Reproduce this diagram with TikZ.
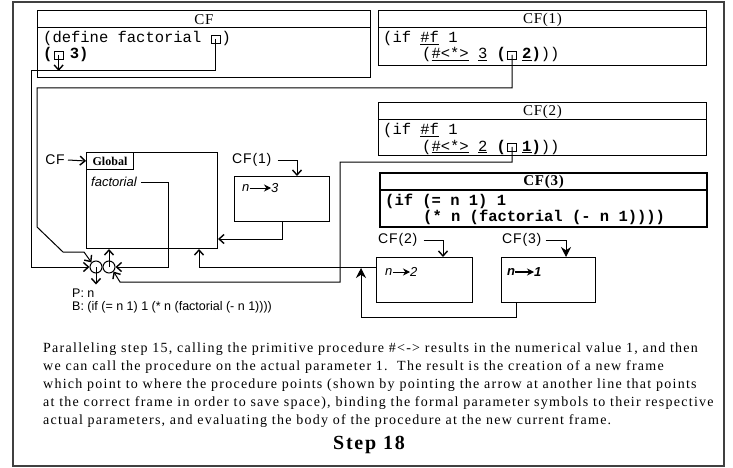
\documentclass[tikz,border=0pt]{standalone}
\usepackage{fontspec}
\setmainfont{Liberation Serif}
\setsansfont{Liberation Sans}
\setmonofont{Liberation Mono}
\newfontfamily\parafont[LetterSpace=9]{Liberation Serif}
\newfontfamily\lblfont[LetterSpace=6]{Liberation Sans}
\newfontfamily\hdrfont[LetterSpace=5]{Liberation Serif}
\usetikzlibrary{arrows.meta,positioning,calc}

\tikzset{
  line/.style={line width=1pt},
  arr/.style={line width=1pt, -{Straight Barb[length=5pt,width=9pt,line width=1.4pt]}},
  barr/.style={line width=1pt, -{Stealth[length=10pt,width=10pt]}},
  narr/.style={line width=1pt, -{Stealth[length=7pt,width=7pt]}},
  codebox/.style={draw, line width=1pt, inner sep=0pt, anchor=north west},
  code/.style={font=\fontsize{15.5}{16}\ttfamily, inner sep=0pt},
  boldcode/.style={font=\fontsize{15.5}{16}\ttfamily\bfseries, inner sep=0pt},
  hdr/.style={font=\fontsize{15}{16}\hdrfont, inner sep=0pt},
  ptr/.style={draw, line width=0.9pt, minimum width=9pt, minimum height=8pt, inner sep=0pt},
  frm/.style={draw, line width=1pt, inner sep=0pt, anchor=north west},
  lbl/.style={font=\fontsize{14}{16}\lblfont, inner sep=0pt},
  bind/.style={font=\fontsize{13}{15}\sffamily\itshape, inner sep=0pt},
  cell/.style={draw, circle, minimum size=12pt, inner sep=0pt, line width=1pt},
  proc/.style={font=\fontsize{12.5}{13}\sffamily, inner sep=0pt, anchor=west},
}

\begin{document}
\begin{tikzpicture}[x=1pt,y=-1pt]
\useasboundingbox (0,0) rectangle (733,468);
\draw[line width=1.5pt, black!75] (13,2) rectangle (724,466);

% code frames
\node[codebox, minimum width=333pt, minimum height=67pt] (cf) at (37,10) {};
\draw[line] ([yshift=-18pt]cf.north west) -- ([yshift=-18pt]cf.north east);
\node[hdr] (cft) at ([yshift=-9.5pt]cf.north) {CF};
\node[code, anchor=base west] (cfa) at (43,43) {(define factorial};
\node[ptr, right=9pt of cfa] (pf) {};
\node[code, right=1pt of pf] (cfb) {)};
\node[boldcode, anchor=base west] (cfc) at (43,59) {(};
\node[ptr, right=1pt of cfc] (pa) {};
\node[boldcode, right=6pt of pa] (cfd) {3)};

\node[codebox, minimum width=328pt, minimum height=55pt] (cf1) at (378,10) {};
\draw[line] ([yshift=-18pt]cf1.north west) -- ([yshift=-18pt]cf1.north east);
\node[hdr] (cf1t) at ([yshift=-9.5pt]cf1.north) {CF(1)};
\node[code, anchor=base west] (c1a) at (383,43) {(if \underline{\#f} 1};
\node[code, anchor=base west] (c1b) at (422,59) {(\underline{\#<*>} \underline{3} \textbf{(}};
\node[ptr, right=1pt of c1b] (p1) {};
\node[code, right=5pt of p1] (c1c) {\textbf{\underline{2})}))};

\node[codebox, minimum width=328pt, minimum height=53pt] (cf2) at (378,102) {};
\draw[line] ([yshift=-18pt]cf2.north west) -- ([yshift=-18pt]cf2.north east);
\node[hdr] (cf2t) at ([yshift=-9.5pt]cf2.north) {CF(2)};
\node[code, anchor=base west] (c2a) at (383,135) {(if \underline{\#f} 1};
\node[code, anchor=base west] (c2b) at (422,151) {(\underline{\#<*>} \underline{2} \textbf{(}};
\node[ptr, right=1pt of c2b] (p2) {};
\node[code, right=5pt of p2] (c2c) {\textbf{\underline{1})}))};

\node[codebox, line width=2pt, minimum width=327pt, minimum height=54pt] (cf3) at (379,172) {};
\draw[line width=1.5pt] ([yshift=-18pt]cf3.north west) -- ([yshift=-18pt]cf3.north east);
\node[hdr, font=\fontsize{15}{16}\hdrfont\bfseries] (cf3t) at ([yshift=-9.5pt]cf3.north) {CF(3)};
\node[boldcode, anchor=base west] (c3a) at (385,205) {(if (= n 1) 1};
\node[boldcode, anchor=base west] (c3b) at (423,221) {(* n (factorial (- n 1))))};

% environment frames
\node[frm, minimum width=131pt, minimum height=96pt] (glob) at (86,152) {};
\node[draw, line width=1pt, anchor=north west, minimum width=47pt, minimum height=17pt, inner sep=0pt, font=\fontsize{12}{12}\bfseries] (globl) at (glob.north west) {Global};
\node[lbl, anchor=east] (lg) at (65,160) {CF};
\draw[arr] ([xshift=3pt]lg.east) -- (globl.west);
\node[bind, anchor=west] (fac) at (91,182) {factorial};

\node[frm, minimum width=95pt, minimum height=45pt] (f1) at (234,176) {};
\node[lbl, anchor=west] (l1) at (232,160) {CF(1)};
\draw[arr] ([xshift=6pt]l1.east) -| ([xshift=63pt]f1.north west);
\node[bind, anchor=west] (n1) at (242,188) {n};
\node[bind, anchor=west] (v1) at (271,188) {3};
\draw[narr] (n1) -- (v1);

\node[frm, minimum width=96pt, minimum height=45pt] (f2) at (376,257) {};
\node[lbl, anchor=west] (l2) at (378,240) {CF(2)};
\draw[arr] ([xshift=6pt]l2.east) -| ([xshift=67pt]f2.north west);
\node[bind, anchor=west] (n2) at (385,272) {n};
\node[bind, anchor=west] (v2) at (410,272) {2};
\draw[narr] (n2) -- (v2);

\node[frm, minimum width=94pt, minimum height=45pt] (f3) at (501,257) {};
\node[lbl, anchor=west] (l3) at (502,240) {CF(3)};
\draw[barr] ([xshift=4pt]l3.east) -| ([xshift=65pt]f3.north west);
\node[bind, anchor=west, font=\fontsize{13}{15}\sffamily\bfseries\itshape] (n3) at (507,272) {n};
\node[bind, anchor=west, font=\fontsize{13}{15}\sffamily\bfseries\itshape] (v3) at (534,272) {1};
\draw[narr, line width=1.5pt] (n3) -- (v3);

% procedure object
\node[cell] (lc) at (96,267) {};
\node[cell, right=0pt of lc] (rc) {};
\node[proc] (pn) at (72,293) {P: n};
\node[proc] (pb) at (72,307) {B: (if (= n 1) 1 (* n (factorial (- n 1))))};
\draw[arr] (lc.center) -- ([yshift=4pt]lc.center |- pn.north);
\draw[arr] (rc.center) -- (rc.center |- glob.south);

% pointers
\coordinate (aa) at (31,71);
\draw[arr] (pf.center) |- (aa) |- (lc.west);
\draw[arr] (pa.center) -- (pa.center |- aa);
\coordinate (ca) at (37,88);
\coordinate (cb) at (37,227);
\coordinate (cc) at (63,252);
\coordinate (cd) at (84,252);
\draw[arr] (p1.center) |- (ca) -- (cb) -- (cc) -- (cd) -- (lc.north west);
\coordinate (da) at (340,162);
\coordinate (db) at (120,282);
\draw[arr] (p2.center) |- (da) |- (db) -- (rc.south east);
\coordinate (fx) at (168,267);
\draw[arr] ([xshift=4pt]fac.east) -| (fx) -- (rc.east);
\draw[arr] (f1.south) |- ([yshift=10pt]glob.south east);
\draw[arr] ([yshift=-10pt]f2.north west) -| ([xshift=-19pt]glob.south east);
\coordinate (jt) at (361,268);
\draw[barr] ([xshift=15pt]f3.south west) -- ++(0,14) -| (jt);

% explanation
\node[anchor=north west, inner sep=0pt, align=left, font=\fontsize{14}{18}\parafont] (txt) at (43,343)
  {Paralleling step 15, calling the primitive procedure \#<-> results in the numerical value 1, and then\\
   we can call the procedure on the actual parameter 1.\ \ The result is the creation of a new frame\\
   which point to where the procedure points (shown by pointing the arrow at another line that points\\
   at the correct frame in order to save space), binding the formal parameter symbols to their respective\\
   actual parameters, and evaluating the body of the procedure at the new current frame.};
\node[font=\fontsize{20}{24}\parafont\bfseries] (step) at (369,445) {Step 18};
\end{tikzpicture}
\end{document}
